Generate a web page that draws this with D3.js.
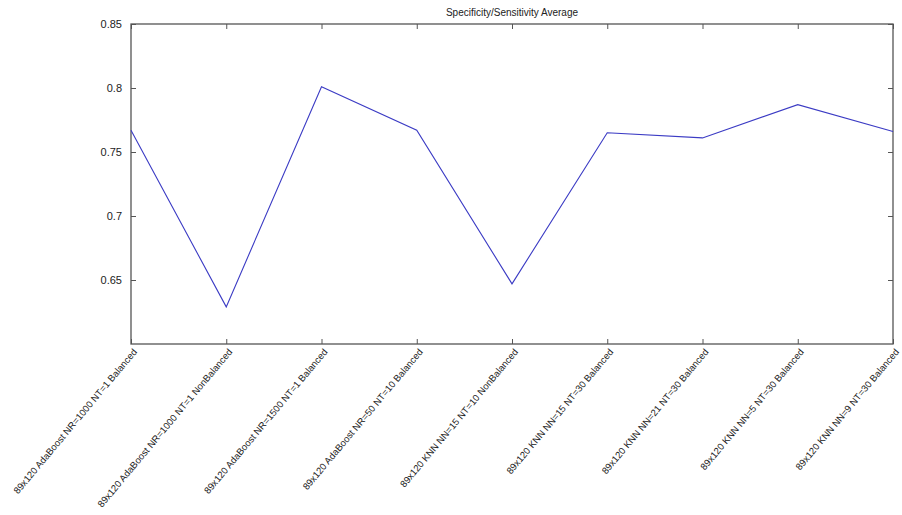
<!DOCTYPE html>
<html>
<head>
<meta charset="utf-8">
<script src="https://cdn.jsdelivr.net/npm/d3@7"></script>
<style>
  html, body { margin: 0; padding: 0; background: #fff; }
  svg { display: block; }
  text { font-family: "Liberation Sans", Arial, sans-serif; fill: #222; }
</style>
</head>
<body>
<svg id="chart" width="902" height="515"></svg>
<script>
// Classifier configurations
const categories = [
  "89x120 AdaBoost NR=1000 NT=1 Balanced",
  "89x120 AdaBoost NR=1000 NT=1 NonBalanced",
  "89x120 AdaBoost NR=1500 NT=1 Balanced",
  "89x120 AdaBoost NR=50 NT=10 Balanced",
  "89x120 KNN NN=15 NT=10 NonBalanced",
  "89x120 KNN NN=15 NT=30 Balanced",
  "89x120 KNN NN=21 NT=30 Balanced",
  "89x120 KNN NN=5 NT=30 Balanced",
  "89x120 KNN NN=9 NT=30 Balanced"
];
// Mean of specificity and sensitivity per configuration
const values = [0.767, 0.629, 0.801, 0.767, 0.647, 0.765, 0.761, 0.787, 0.766];
const yTicks = [0.65, 0.7, 0.75, 0.8, 0.85];
const yTickLabels = ["0.65", "0.7", "0.75", "0.8", "0.85"];
const title = "Specificity/Sensitivity Average";

const svg = d3.select("#chart");
const plotLeft = 131, plotRight = 893, plotTop = 24, plotBottom = 344;
const axisColor = "#555";
const tickLen = 5;

const x = d3.scalePoint().domain(d3.range(categories.length)).range([plotLeft, plotRight]);
const y = d3.scaleLinear().domain([0.6, 0.85]).range([plotBottom, plotTop]);

// Box
svg.append("rect")
  .attr("x", plotLeft).attr("y", plotTop)
  .attr("width", plotRight - plotLeft).attr("height", plotBottom - plotTop)
  .attr("fill", "none").attr("stroke", axisColor).attr("stroke-width", 1.3);

// Left axis with inward ticks
const yAxisL = d3.axisLeft(y).tickValues(yTicks)
  .tickFormat((d, i) => yTickLabels[i]).tickSizeInner(-tickLen).tickSizeOuter(0).tickPadding(9);
const gL = svg.append("g").attr("transform", `translate(${plotLeft},0)`).call(yAxisL);
gL.select(".domain").remove();
gL.selectAll("line").attr("stroke", axisColor);
gL.selectAll("text").style("font-size", "11px").attr("fill", "#222");

// Right axis ticks
const yAxisR = d3.axisRight(y).tickValues(yTicks).tickSizeInner(-tickLen).tickSizeOuter(0).tickFormat("");
const gR = svg.append("g").attr("transform", `translate(${plotRight},0)`).call(yAxisR);
gR.select(".domain").remove();
gR.selectAll("line").attr("stroke", axisColor);

// Bottom axis ticks
const xAxisB = d3.axisBottom(x).tickSizeInner(-tickLen).tickSizeOuter(0).tickFormat("");
const gB = svg.append("g").attr("transform", `translate(0,${plotBottom})`).call(xAxisB);
gB.select(".domain").remove();
gB.selectAll("line").attr("stroke", axisColor);

// Top axis ticks
const xAxisT = d3.axisTop(x).tickSizeInner(-tickLen).tickSizeOuter(0).tickFormat("");
const gT = svg.append("g").attr("transform", `translate(0,${plotTop})`).call(xAxisT);
gT.select(".domain").remove();
gT.selectAll("line").attr("stroke", axisColor);

// Rotated category labels
svg.append("g").selectAll("text")
  .data(categories)
  .join("text")
  .attr("transform", (d, i) => `translate(${x(i) + 4},${plotBottom + 6}) rotate(-50)`)
  .attr("text-anchor", "end")
  .attr("dy", "0.35em")
  .style("font-size", "9.5px")
  .text(d => d);

// Series line
const line = d3.line().x((d, i) => x(i)).y(d => y(d));
svg.append("path")
  .datum(values)
  .attr("d", line)
  .attr("fill", "none")
  .attr("stroke", "#3b3bc4")
  .attr("stroke-width", 1.1);

// Title
svg.append("text")
  .attr("x", (plotLeft + plotRight) / 2).attr("y", 16)
  .attr("text-anchor", "middle")
  .style("font-size", "10px")
  .text(title);
</script>
</body>
</html>
